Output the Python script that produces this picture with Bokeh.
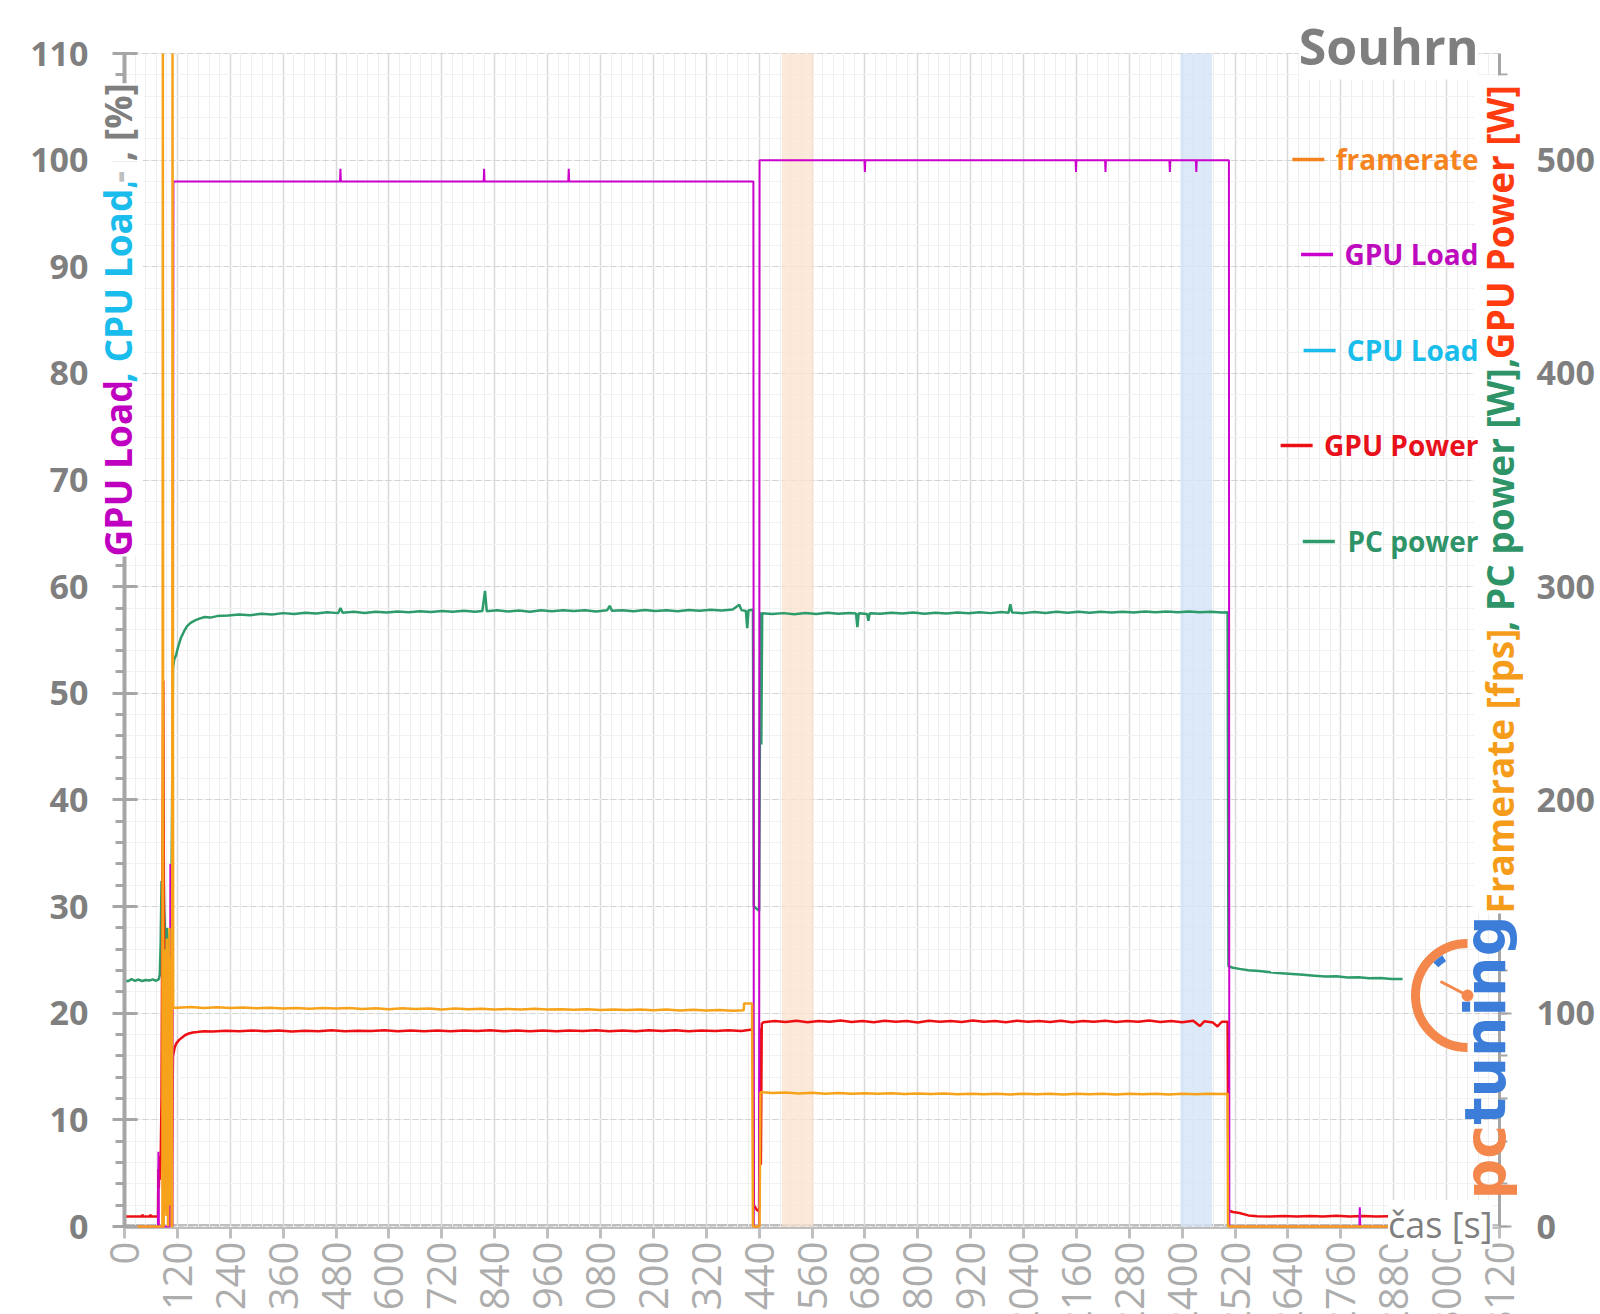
import math
from bokeh.plotting import figure
from bokeh.models import Range1d, LinearAxis, FixedTicker, Label, BoxAnnotation, Grid
from bokeh.embed import file_html
from bokeh.resources import INLINE

# ---------------- data ----------------
x_ticks = [0, 120, 240, 360, 480, 600, 720, 840, 960, 1080, 1200, 1320, 1440, 1560,
           1680, 1800, 1920, 2040, 2160, 2280, 2400, 2520, 2640, 2760, 2880, 3000, 3120]
x_tick_labels = ["0", "120", "240", "360", "480", "600", "720", "840", "960", "1080", "1200",
                 "1320", "1440", "1560", "1680", "1800", "1920", "2040", "2160", "2280", "2400",
                 "2520", "2640", "2760", "2880", "3000", "3120"]
left_ticks = [0, 10, 20, 30, 40, 50, 60, 70, 80, 90, 100, 110]
right_ticks = [0, 100, 200, 300, 400, 500]

title_text = "Souhrn"
x_title = "čas [s]"
left_title_parts = ["GPU Load", ", CPU Load,", " -", ", [%]"]
right_title_parts = ["Framerate [fps]", ", PC power [W],", " GPU Power [W]"]
legend_names = ["framerate", "GPU Load", "CPU Load", "GPU Power", "PC power"]
logo_parts = ["pc", "tuning"]

# highlighted time windows [s]
band_orange = [1492, 1563]
band_blue = [2396, 2468]

# framerate [fps] (right axis); the two start-up spikes run off the top of the chart
fps_t = [0, 86, 87, 88, 89, 90, 91, 92, 93, 94, 95, 96, 97, 98, 99, 100, 101, 102, 103, 104, 105,
         106, 107, 108, 109, 110.5, 120, 150, 180, 210, 240, 270, 300, 330, 360, 390, 420, 450,
         480, 510, 540, 570, 600, 630, 660, 690, 720, 750, 780, 810, 840, 870, 900, 930, 960, 990,
         1020, 1050, 1080, 1110, 1140, 1170, 1200, 1230, 1260, 1290, 1320, 1350, 1380, 1405, 1406,
         1424, 1426, 1441, 1443, 1470, 1500, 1530, 1560, 1590, 1620, 1650, 1680, 1710, 1740, 1770,
         1800, 1830, 1860, 1890, 1920, 1950, 1980, 2010, 2040, 2070, 2100, 2130, 2160, 2190, 2220,
         2250, 2280, 2310, 2340, 2370, 2400, 2430, 2460, 2490, 2503, 2504, 2870]
fps_v = [0, 0, 550, 0, 0, 95, 10, 130, 20, 118, 5, 135, 30, 122, 0, 128, 25, 140, 10, 120, 35,
         126, 0, 0, 550, 102.7, 102.6, 102.9, 102.4, 102.8, 102.5, 102.7, 102.3, 102.6, 102.2, 102.5,
         102.1, 102.5, 102.2, 102.4, 102.0, 102.3, 101.9, 102.3, 102.0, 102.2, 101.8, 102.2, 101.9,
         102.1, 101.7, 102.0, 101.8, 102.1, 101.7, 101.9, 101.6, 101.9, 101.5, 101.8, 101.5, 101.8,
         101.4, 101.7, 101.3, 101.6, 101.3, 101.5, 101.2, 101.4, 104.6, 104.6, 0, 0, 63.0, 62.6,
         62.8, 62.4, 62.7, 62.3, 62.6, 62.2, 62.5, 62.2, 62.5, 62.1, 62.4, 62.1, 62.4, 62.0, 62.3,
         62.0, 62.3, 61.9, 62.3, 62.0, 62.2, 61.9, 62.3, 62.0, 62.2, 61.9, 62.3, 62.0, 62.2, 61.9,
         62.3, 62.0, 62.3, 62.1, 62.2, 0, 0]

# GPU load [%] (left axis)
gpu_load_t = [0, 76, 77, 78, 103, 104, 105, 107, 109, 111, 489, 490, 491, 815, 816, 817, 1007,
              1008, 1009, 1427, 1428, 1440, 1441, 1679, 1680, 1681, 2158, 2159, 2160, 2225, 2226,
              2227, 2371, 2372, 2373, 2431, 2432, 2433, 2506, 2507, 2802, 2803, 2804, 2870]
gpu_load_v = [0, 0, 7, 0, 0, 34, 3, 5, 0, 98, 98, 99.2, 98, 98, 99.2, 98, 98, 99.2, 98, 98, 0, 0,
              100, 100, 98.9, 100, 100, 98.9, 100, 100, 98.9, 100, 100, 98.9, 100, 100, 98.9, 100,
              100, 0, 0, 1.8, 0, 0]

# CPU load [%] (left axis) - no visible trace in the chart
cpu_load_t = []
cpu_load_v = []

# GPU power [W] (right axis)
gpu_power_t = [0, 20, 40, 41, 42, 58, 59, 60, 76, 77, 78, 79, 80, 82, 84, 86, 88, 90, 92, 94, 96,
               98, 100, 102, 104, 106, 108, 110, 114, 118, 124, 130, 138, 146, 155, 165, 180, 200,
               230, 260, 290, 320, 350, 380, 410, 440, 470, 500, 530, 560, 590, 620, 650, 680, 710,
               740, 770, 800, 830, 860, 890, 920, 950, 980, 1010, 1040, 1070, 1100, 1130, 1160,
               1190, 1220, 1250, 1280, 1310, 1340, 1370, 1400, 1420, 1426, 1428, 1434, 1440, 1442,
               1444, 1446, 1450, 1475, 1500, 1525, 1550, 1575, 1600, 1625, 1650, 1675, 1700, 1725,
               1750, 1775, 1800, 1825, 1850, 1875, 1900, 1925, 1950, 1975, 2000, 2025, 2050, 2075,
               2100, 2125, 2150, 2175, 2200, 2225, 2250, 2275, 2300, 2325, 2350, 2375, 2400, 2425,
               2440, 2450, 2470, 2480, 2490, 2503, 2505, 2515, 2530, 2550, 2570, 2600, 2630, 2660,
               2690, 2720, 2750, 2780, 2810, 2840, 2870]
gpu_power_w = [4.7, 4.7, 4.7, 5.6, 4.7, 4.7, 5.6, 4.7, 4.7, 27, 18, 33, 22, 30, 60, 160, 256, 110,
               20, 8, 14, 5, 16, 6, 15, 8, 40, 80, 84, 86, 87.5, 88.5, 89.8, 90.5, 91.0, 91.2, 91.6,
               91.4, 91.8, 91.5, 91.9, 91.6, 91.9, 91.4, 91.8, 91.6, 92.0, 91.5, 91.8, 91.7, 92.0,
               91.5, 91.9, 91.6, 91.9, 91.5, 91.9, 91.7, 92.0, 91.5, 91.9, 91.6, 91.9, 91.5, 91.9,
               91.7, 92.0, 91.6, 91.9, 91.6, 92.0, 91.7, 92.0, 91.6, 91.9, 91.7, 92.0, 91.7, 92.2,
               92.5, 10, 8, 7, 93, 29, 95, 95.8, 96.4, 95.9, 96.5, 95.8, 96.4, 96.0, 96.6, 95.9,
               96.4, 95.8, 96.5, 96.0, 96.4, 95.7, 96.5, 96.0, 96.4, 95.9, 96.6, 96.0, 96.3, 95.8,
               96.5, 96.0, 96.4, 95.9, 96.5, 95.8, 96.4, 96.0, 96.5, 95.9, 96.3, 96.0, 96.6, 95.9,
               96.4, 95.8, 96.5, 94.0, 96.2, 95.6, 93.8, 96.0, 96.0, 7.5, 6.8, 6.3, 5.2, 4.8, 4.7,
               4.9, 4.7, 4.9, 4.7, 5.0, 4.7, 4.9, 4.7, 4.8]

# PC power [W] (right axis)
pc_power_t = [0, 8, 16, 24, 32, 40, 48, 56, 64, 72, 78, 80, 82, 84, 85, 87, 88, 89, 90, 92, 94,
              96, 98, 100, 102, 104, 106, 108, 110, 113, 117, 122, 128, 135, 142, 150, 160, 170,
              182, 195, 210, 235, 260, 285, 310, 335, 360, 385, 410, 435, 460, 485, 490, 495, 520,
              545, 570, 595, 620, 645, 670, 695, 720, 745, 770, 795, 812, 818, 822, 845, 870, 895,
              920, 945, 970, 995, 1020, 1045, 1070, 1095, 1101, 1106, 1130, 1155, 1180, 1205, 1230,
              1255, 1280, 1305, 1330, 1355, 1380, 1395, 1400, 1410, 1413, 1416, 1426, 1428, 1440,
              1443, 1445, 1447, 1470, 1495, 1520, 1545, 1570, 1595, 1620, 1645, 1660, 1663, 1666,
              1685, 1688, 1691, 1715, 1740, 1765, 1790, 1815, 1840, 1865, 1890, 1915, 1940, 1965,
              1990, 2006, 2010, 2014, 2040, 2065, 2090, 2115, 2140, 2165, 2190, 2215, 2240, 2265,
              2290, 2315, 2340, 2365, 2390, 2415, 2440, 2465, 2490, 2503, 2505, 2515, 2530, 2550,
              2575, 2600, 2625, 2650, 2675, 2700, 2725, 2750, 2775, 2800, 2825, 2850, 2875, 2900]
pc_power_w = [115.5, 115.0, 116.0, 115.2, 115.8, 115.1, 115.6, 115.3, 115.9, 115.2, 116.0, 118,
              132, 162, 150, 170, 193, 165, 150, 138, 128, 140, 131, 137, 128, 134, 142, 200, 262,
              266, 268, 272, 276, 279, 281.5, 283, 284.2, 285, 285.8, 285.5, 286.2, 286.5, 286.9,
              286.6, 287.3, 287.0, 287.6, 287.2, 287.8, 287.4, 288.0, 287.6, 290.0, 287.8, 288.2,
              287.7, 288.3, 287.9, 288.4, 288.0, 288.5, 288.1, 288.6, 288.2, 288.7, 288.3, 288.6,
              298.0, 288.5, 288.9, 288.4, 288.8, 288.3, 288.9, 288.5, 289.0, 288.6, 288.9, 288.4,
              288.9, 291.0, 288.7, 289.0, 288.5, 289.1, 288.6, 289.0, 288.5, 289.1, 288.7, 289.2,
              288.8, 289.3, 291.5, 289.0, 288.6, 280.5, 289.0, 289.2, 150, 148, 288.0, 226, 287.5,
              287.2, 287.6, 287.1, 287.7, 287.2, 287.8, 287.3, 287.7, 287.4, 281.0, 287.5, 287.2,
              284.0, 287.6, 287.3, 287.8, 287.4, 287.9, 287.3, 287.8, 287.4, 287.9, 287.5, 288.0,
              287.6, 288.1, 287.8, 291.7, 287.9, 287.6, 288.1, 287.7, 288.2, 287.8, 288.2, 287.8,
              288.3, 287.9, 288.3, 287.9, 288.4, 288.0, 288.4, 288.0, 288.4, 288.0, 288.3, 287.9,
              288.0, 122.0, 121.3, 120.8, 120.2, 119.8, 119.2, 118.8, 118.4, 118.0, 117.6, 117.2,
              117.3, 116.8, 116.9, 116.4, 116.5, 116.0, 116.1]

# ---------------- layout / style ----------------
W, H = 1600, 1314
FL, FR, FT, FB = 124, 1499, 53, 1226          # plot area in page pixels
X_MAX, Y_MAX, W_MAX = 3120, 110, 550
GRAY = "#7F7F7F"
FONT = "Open Sans"


def dx(px):
    return (px - FL) * X_MAX / (FR - FL)


def dy(py):
    return (FB - py) * Y_MAX / (FB - FT)


EM_BOLD = {" ": .26, ",": .27, "-": .322, "[": .341, "]": .341, "%": .89, "a": .586, "c": .51,
           "d": .63, "e": .583, "f": .384, "m": .96, "n": .643, "o": .613, "p": .63, "r": .455,
           "s": .494, "t": .416, "u": .643, "w": .83, "h": .643, "i": .30, "C": .644, "G": .734,
           "L": .54, "P": .617, "U": .715, "W": .98, "F": .554, "S": .551}


def text_w(s, size):
    return sum(EM_BOLD.get(ch, .6) for ch in s) * size


# the frame spans the whole page; the chart area is positioned through the ranges
p = figure(width=W, height=H, x_range=Range1d(dx(0), dx(W)), y_range=Range1d(dy(H), dy(0)),
           output_backend="svg", toolbar_location=None, min_border=0,
           x_axis_location=None, y_axis_location=None,
           background_fill_color="white", border_fill_color="white", outline_line_color=None)
p.extra_y_ranges = {"w": Range1d(dy(H) * W_MAX / Y_MAX, dy(0) * W_MAX / Y_MAX)}
# drop the default grids, own ones follow
p.center = [c for c in p.center if not isinstance(c, Grid)]

# grids
xgrid_ticker = FixedTicker(ticks=x_ticks, minor_ticks=list(range(0, X_MAX + 1, 24)))
ygrid_ticker = FixedTicker(ticks=left_ticks, minor_ticks=list(range(0, Y_MAX + 1, 2)))
has_cross = "cross_bounds" in Grid.properties()
if has_cross:
    gx = Grid(dimension=0, ticker=xgrid_ticker, bounds=(0, X_MAX), cross_bounds=(0, Y_MAX),
              grid_line_color="#D9D9D9", grid_line_width=1.5,
              minor_grid_line_color="#EEEEEE", minor_grid_line_width=1)
    gy = Grid(dimension=1, ticker=ygrid_ticker, bounds=(0, Y_MAX), cross_bounds=(0, X_MAX),
              grid_line_color="#D3D3D3", grid_line_width=1.2, grid_line_dash="6 3",
              minor_grid_line_color="#F1F1F1", minor_grid_line_width=1)
    p.add_layout(gx)
    p.add_layout(gy)
else:
    mx = [v for v in range(0, X_MAX + 1, 24) if v % 120]
    p.segment(x0=mx, y0=[0] * len(mx), x1=mx, y1=[Y_MAX] * len(mx), line_color="#EEEEEE",
              line_width=1, level="underlay")
    my = [v for v in range(0, Y_MAX + 1, 2) if v % 10]
    p.segment(x0=[0] * len(my), y0=my, x1=[X_MAX] * len(my), y1=my, line_color="#F1F1F1",
              line_width=1, level="underlay")
    p.segment(x0=x_ticks, y0=[0] * len(x_ticks), x1=x_ticks, y1=[Y_MAX] * len(x_ticks),
              line_color="#D9D9D9", line_width=1.5, level="underlay")
    p.segment(x0=[0] * len(left_ticks), y0=left_ticks, x1=[X_MAX] * len(left_ticks),
              y1=left_ticks, line_color="#D3D3D3", line_width=1.2, line_dash="6 3",
              level="underlay")

# bottom axis
xa = LinearAxis(fixed_location=0, bounds=(0, X_MAX), ticker=FixedTicker(ticks=x_ticks),
                major_label_overrides={v: s for v, s in zip(x_ticks, x_tick_labels)})
xa.major_label_orientation = math.pi / 2
xa.major_label_text_font = FONT
xa.major_label_text_font_size = "40px"
xa.major_label_text_color = "#ADADAD"
xa.major_label_standoff = 3
xa.axis_line_color = "#BFBFBF"
xa.axis_line_width = 5
xa.major_tick_line_color = "#BFBFBF"
xa.major_tick_line_width = 3
xa.major_tick_out = 12
xa.major_tick_in = 0
xa.minor_tick_line_color = None
xa.level = "underlay"
p.add_layout(xa, "below")

# left axis
ya = LinearAxis(fixed_location=0, bounds=(0, Y_MAX),
                ticker=FixedTicker(ticks=left_ticks, minor_ticks=list(range(0, Y_MAX + 1, 2))))
ya.axis_line_color = "#A6A6A6"
ya.axis_line_width = 4
ya.major_tick_line_color = "#A6A6A6"
ya.major_tick_line_width = 3
ya.major_tick_out = 12
ya.major_tick_in = 13
ya.minor_tick_line_color = "#A6A6A6"
ya.minor_tick_line_width = 3
ya.minor_tick_out = 9
ya.minor_tick_in = 0
ya.major_label_text_font = FONT
ya.major_label_text_font_size = "34px"
ya.major_label_text_font_style = "bold"
ya.major_label_text_color = GRAY
ya.major_label_standoff = 24
p.add_layout(ya, "left")

# right axis
ra = LinearAxis(y_range_name="w", fixed_location=X_MAX, bounds=(0, W_MAX),
                ticker=FixedTicker(ticks=right_ticks, minor_ticks=list(range(0, 541, 20))))
ra.axis_line_color = "#A6A6A6"
ra.axis_line_width = 3
ra.major_tick_line_color = "#A6A6A6"
ra.major_tick_line_width = 2
ra.major_tick_out = 12
ra.major_tick_in = 0
ra.minor_tick_line_color = "#A6A6A6"
ra.minor_tick_line_width = 2
ra.minor_tick_out = 8
ra.minor_tick_in = 0
ra.major_label_text_font = FONT
ra.major_label_text_font_size = "34px"
ra.major_label_text_font_style = "bold"
ra.major_label_text_color = GRAY
ra.major_label_standoff = 25
p.add_layout(ra, "right")

# highlighted bands
p.add_layout(BoxAnnotation(left=band_orange[0], right=band_orange[1], bottom=0, top=Y_MAX,
                           fill_color="#FBE2CC", fill_alpha=0.75, line_color=None,
                           level="underlay"))
p.add_layout(BoxAnnotation(left=band_blue[0], right=band_blue[1], bottom=0, top=Y_MAX,
                           fill_color="#D3E4F7", fill_alpha=0.8, line_color=None,
                           level="underlay"))

# series
p.line(pc_power_t, pc_power_w, y_range_name="w", line_color="#2E9B6B", line_width=2.5)
p.line(gpu_power_t, gpu_power_w, y_range_name="w", line_color="#EC1014", line_width=2.5)
p.line(cpu_load_t, cpu_load_v, line_color="#19BDEB", line_width=2.5)
p.line(gpu_load_t, gpu_load_v, line_color="#CC00CC", line_width=2)
p.line(fps_t, fps_v, y_range_name="w", line_color="#F7A21B", line_width=2.5)

# x axis title
p.add_layout(Label(x=dx(1492), y=dy(1224), text=x_title, text_align="right",
                   text_baseline="middle", text_font=FONT, text_font_size="36px",
                   text_color=GRAY, background_fill_color="white"))

# chart title
p.add_layout(Label(x=dx(1478), y=dy(45), text=title_text, text_align="right",
                   text_baseline="middle", text_font=FONT, text_font_size="50px",
                   text_font_style="bold", text_color=GRAY, background_fill_color="white"))

# left axis title (multi-coloured, rotated)
TS = 37
left_colors = ["#C000C0", "#1ABCEB", "#BFBFBF", GRAY]
ypos = 556
for part, col in zip(left_title_parts, left_colors):
    p.add_layout(Label(x=dx(117), y=dy(ypos), text=part, angle=math.pi / 2, text_align="left",
                       text_baseline="middle", text_font=FONT, text_font_size=f"{TS}px",
                       text_font_style="bold", text_color=col, background_fill_color="white"))
    ypos -= text_w(part, TS)

# right axis title (multi-coloured, rotated)
right_colors = ["#F59C1A", "#2E9468", "#FF3B0F"]
ypos = 913
for part, col in zip(right_title_parts, right_colors):
    p.add_layout(Label(x=dx(1499), y=dy(ypos), text=part, angle=math.pi / 2, text_align="left",
                       text_baseline="middle", text_font=FONT, text_font_size=f"{TS}px",
                       text_font_style="bold", text_color=col, background_fill_color="white"))
    ypos -= text_w(part, TS)

# legend (manual)
LS = 28
leg_text_colors = ["#F5841F", "#BE0BBE", "#19BDEB", "#E8101A", "#2E9468"]
leg_line_colors = ["#F5841F", "#CC00CC", "#19BDEB", "#EC1014", "#2E9B6B"]
leg_rows = [158, 253, 349, 444, 540]
for name, tc, lc, ry in zip(legend_names, leg_text_colors, leg_line_colors, leg_rows):
    p.add_layout(Label(x=dx(1478), y=dy(ry), text=name, text_align="right",
                       text_baseline="middle", text_font=FONT, text_font_size=f"{LS}px",
                       text_font_style="bold", text_color=tc))
    x_end = 1478 - text_w(name, LS) - 14
    p.segment(x0=[dx(x_end - 32)], y0=[dy(ry + 1)], x1=[dx(x_end)], y1=[dy(ry + 1)],
              line_color=lc, line_width=3.5)

# pctuning logo
cx, cy = dx(1467), dy(995)
p.arc(x=[cx], y=[cy], radius=52, radius_units="screen", start_angle=math.pi / 2,
      end_angle=3 * math.pi / 2, direction="anticlock", line_color="#F4874B", line_width=9)
p.arc(x=[cx], y=[cy], radius=44, radius_units="screen", start_angle=math.radians(122),
      end_angle=math.radians(136), direction="anticlock", line_color="#3B7DD8", line_width=7)
p.segment(x0=[cx], y0=[cy], x1=[dx(1440)], y1=[dy(981)], line_color="#F4874B", line_width=3)
p.scatter(x=[cx], y=[cy], size=11, color="#F4874B")
LOGO_S = 57
LOGO_X = 1484
p.add_layout(Label(x=dx(LOGO_X), y=dy(1199), text=logo_parts[0], angle=math.pi / 2,
                   text_align="left", text_baseline="alphabetic", text_font="DejaVu Sans",
                   text_font_size=f"{LOGO_S}px", text_font_style="bold", text_color="#F4874B"))
p.add_layout(Label(x=dx(LOGO_X), y=dy(1199 - 0.655 * 2 * LOGO_S), text=logo_parts[1],
                   angle=math.pi / 2, text_align="left", text_baseline="alphabetic",
                   text_font="DejaVu Sans", text_font_size=f"{LOGO_S}px", text_font_style="bold",
                   text_color="#3B7DD8"))

open("out.html", "w").write(file_html(p, INLINE))
